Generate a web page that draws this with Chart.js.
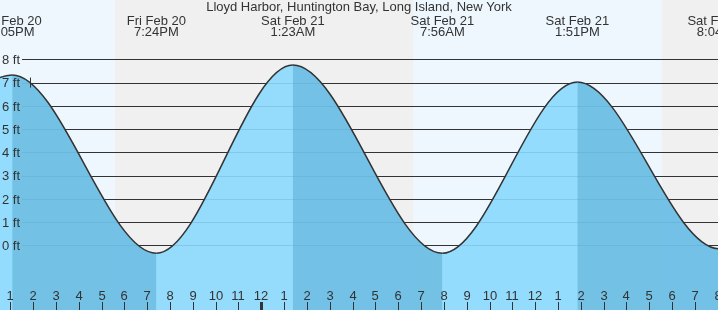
<!DOCTYPE html>
<html>
<head>
<meta charset="utf-8">
<script src="https://cdn.jsdelivr.net/npm/chart.js@4.4.1/dist/chart.umd.min.js"></script>
<style>
  body { margin: 0; background: #fff; }
  #wrap { width: 718px; height: 310px; }
</style>
</head>
<body>
<div id="wrap"><canvas id="tide" width="718" height="310"></canvas></div>
<script>
// time = hours after Fri Feb 20 12:00PM
const title = "Lloyd Harbor, Huntington Bay, Long Island, New York";

// high / low tides (first and last are just off the chart)
const tideTimes = [-5.15, 1.083, 7.4, 13.383, 19.933, 25.85, 32.067, 38.3];
const tideHeights = [-0.3, 7.33, -0.34, 7.75, -0.34, 7.02, -0.15, 7.5];
const tideLabels = [
  null,
  ["Fri Feb 20", "1:05PM"],
  ["Fri Feb 20", "7:24PM"],
  ["Sat Feb 21", "1:23AM"],
  ["Sat Feb 21", "7:56AM"],
  ["Sat Feb 21", "1:51PM"],
  ["Sat Feb 21", "8:04PM"],
  null,
];

// night spans (sunset -> sunrise)
const nights = [[5.59, 18.65], [29.56, 40]];

const hourTicks = [];
for (let h = 1; h <= 32; h++) hourTicks.push(h);
const hourLabels = ["1", "2", "3", "4", "5", "6", "7", "8", "9", "10", "11", "12",
  "1", "2", "3", "4", "5", "6", "7", "8", "9", "10", "11", "12",
  "1", "2", "3", "4", "5", "6", "7", "8"];
const midnight = 12;

const feetTicks = [0, 1, 2, 3, 4, 5, 6, 7, 8];
const feetLabels = ["0 ft", "1 ft", "2 ft", "3 ft", "4 ft", "5 ft", "6 ft", "7 ft", "8 ft"];

const nowTime = 1.87;
const nowHeight = 7;

const FONT = "13px 'Liberation Sans', Arial, sans-serif";
const TEXT = "#333";
const points = tideTimes.map((t, i) => ({ x: t, y: tideHeights[i] }));

const backdrop = {
  id: "backdrop",
  beforeDraw(chart) {
    const { ctx, scales: { x }, width, height } = chart;
    ctx.save();
    ctx.fillStyle = "#eef7fe";
    ctx.fillRect(0, 0, width, height);
    ctx.fillStyle = "#f0f0f0";
    nights.forEach(([a, b]) => {
      const x0 = x.getPixelForValue(a);
      const x1 = x.getPixelForValue(b);
      ctx.fillRect(x0, 0, x1 - x0, height);
    });
    ctx.restore();
  },
  beforeDatasetsDraw(chart) {
    const { ctx, scales: { y }, width } = chart;
    ctx.save();
    ctx.strokeStyle = "#333";
    ctx.lineWidth = 1;
    feetTicks.forEach((v) => {
      const py = Math.round(y.getPixelForValue(v)) + 0.5;
      ctx.beginPath();
      ctx.moveTo(22, py);
      ctx.lineTo(width, py);
      ctx.stroke();
    });
    ctx.restore();
  },
  afterDraw(chart) {
    const { ctx, scales: { x, y }, width, height } = chart;
    ctx.save();
    ctx.font = FONT;
    ctx.fillStyle = TEXT;
    ctx.strokeStyle = TEXT;

    // title
    ctx.textAlign = "center";
    ctx.fillText(title, width / 2, 11);

    // high / low labels
    tideTimes.forEach((t, i) => {
      if (!tideLabels[i]) return;
      const px = x.getPixelForValue(t);
      ctx.fillText(tideLabels[i][0], px, 24.5);
      ctx.fillText(tideLabels[i][1], px, 36);
    });

    // feet labels
    ctx.textAlign = "left";
    feetTicks.forEach((v, i) => {
      ctx.fillText(feetLabels[i], 2, y.getPixelForValue(v) + 4.7);
    });

    // hour ticks
    ctx.textAlign = "center";
    hourTicks.forEach((h, i) => {
      const px = Math.round(x.getPixelForValue(h));
      ctx.fillText(hourLabels[i], px, 300);
      if (h === midnight) {
        ctx.fillRect(px - 1, 302, 3, height - 302);
      } else {
        ctx.fillRect(px, 302, 1, height - 302);
      }
    });

    // now marker
    const nx = Math.round(x.getPixelForValue(nowTime)) + 0.5;
    const ny = y.getPixelForValue(nowHeight);
    ctx.lineWidth = 1;
    ctx.beginPath();
    ctx.moveTo(nx, ny - 5);
    ctx.lineTo(nx, ny + 5);
    ctx.stroke();
    ctx.restore();
  },
};

new Chart(document.getElementById("tide"), {
  type: "line",
  data: {
    datasets: [
      {
        // falling tide shading + curve, drawn on top
        data: points,
        borderColor: "#333",
        borderWidth: 1.5,
        pointRadius: 0,
        cubicInterpolationMode: "monotone",
        fill: "start",
        backgroundColor: "rgba(0,0,0,0)",
        segment: {
          backgroundColor: (c) =>
            c.p1.parsed.y < c.p0.parsed.y ? "rgba(81,167,207,0.5)" : "rgba(0,0,0,0)",
        },
      },
      {
        // water under the whole curve
        data: points,
        borderWidth: 0,
        pointRadius: 0,
        cubicInterpolationMode: "monotone",
        fill: "start",
        backgroundColor: "rgba(137,216,253,0.9)",
      },
    ],
  },
  options: {
    responsive: false,
    animation: false,
    layout: { padding: 0 },
    plugins: { legend: { display: false }, tooltip: { enabled: false } },
    scales: {
      x: { type: "linear", display: false, min: 0.5486, max: 32.013 },
      y: { display: false, min: -2.783, max: 10.551 },
    },
  },
  plugins: [backdrop],
});
</script>
</body>
</html>
